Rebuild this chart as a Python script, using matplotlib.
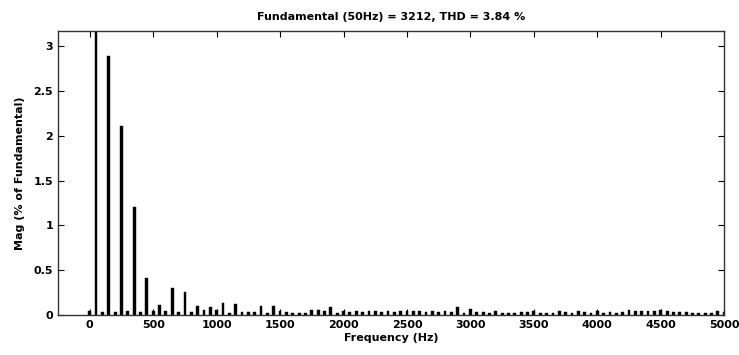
import numpy as np
import matplotlib
matplotlib.use("Agg")
import matplotlib.pyplot as plt

# harmonic spectrum, 50 Hz bins from 0 to 5000 Hz (% of fundamental)
freq = np.arange(0, 5001, 50)
mag = [
    0.05, 100.0, 0.03, 2.89, 0.035, 2.11, 0.05, 1.21, 0.035, 0.41,   # 0-450
    0.04, 0.11, 0.04, 0.30, 0.035, 0.26, 0.035, 0.10, 0.055, 0.09,   # 500-950
    0.055, 0.13, 0.02, 0.12, 0.035, 0.03, 0.03, 0.10, 0.02, 0.10,    # 1000-1450
    0.05, 0.035, 0.025, 0.025, 0.02, 0.06, 0.06, 0.045, 0.09, 0.02,  # 1500-1950
    0.05, 0.035, 0.04, 0.03, 0.04, 0.045, 0.03, 0.04, 0.035, 0.04,   # 2000-2450
    0.05, 0.05, 0.04, 0.03, 0.04, 0.03, 0.04, 0.03, 0.09, 0.02,      # 2500-2950
    0.07, 0.03, 0.03, 0.02, 0.04, 0.02, 0.02, 0.02, 0.03, 0.03,      # 3000-3450
    0.04, 0.02, 0.02, 0.02, 0.04, 0.03, 0.02, 0.04, 0.03, 0.02,      # 3500-3950
    0.04, 0.02, 0.03, 0.02, 0.03, 0.06, 0.05, 0.05, 0.05, 0.05,      # 4000-4450
    0.06, 0.04, 0.03, 0.03, 0.03, 0.02, 0.02, 0.02, 0.02, 0.04,      # 4500-4950
    0.03,                                                            # 5000
]
title = "Fundamental (50Hz) = 3212, THD = 3.84 %"

fig = plt.figure(figsize=(7.39, 3.55), dpi=100)
ax = fig.add_axes([0.0785, 0.1127, 0.9015, 0.80])

ax.bar(freq, mag, width=22, color="black", edgecolor="black", linewidth=0.3)

ax.set_xlim(-250, 5000)
ax.set_ylim(0, 3.17)
ax.set_xticks(np.arange(0, 5001, 500))
ax.set_yticks(np.arange(0, 3.01, 0.5))
ax.set_yticklabels(["0", "0.5", "1", "1.5", "2", "2.5", "3"])
ax.tick_params(direction="in", top=True, right=True, length=4, width=0.8,
               labelsize=8)
for lbl in ax.get_xticklabels() + ax.get_yticklabels():
    lbl.set_fontweight("bold")
for s in ax.spines.values():
    s.set_linewidth(1.0)
    s.set_color("#333333")

ax.set_xlabel("Frequency (Hz)", fontsize=8, fontweight="bold", labelpad=2)
ax.set_ylabel("Mag (% of Fundamental)", fontsize=8, fontweight="bold", labelpad=6)
ax.set_title(title, fontsize=8, fontweight="bold", pad=8)

fig.savefig("out.png", dpi=100)
